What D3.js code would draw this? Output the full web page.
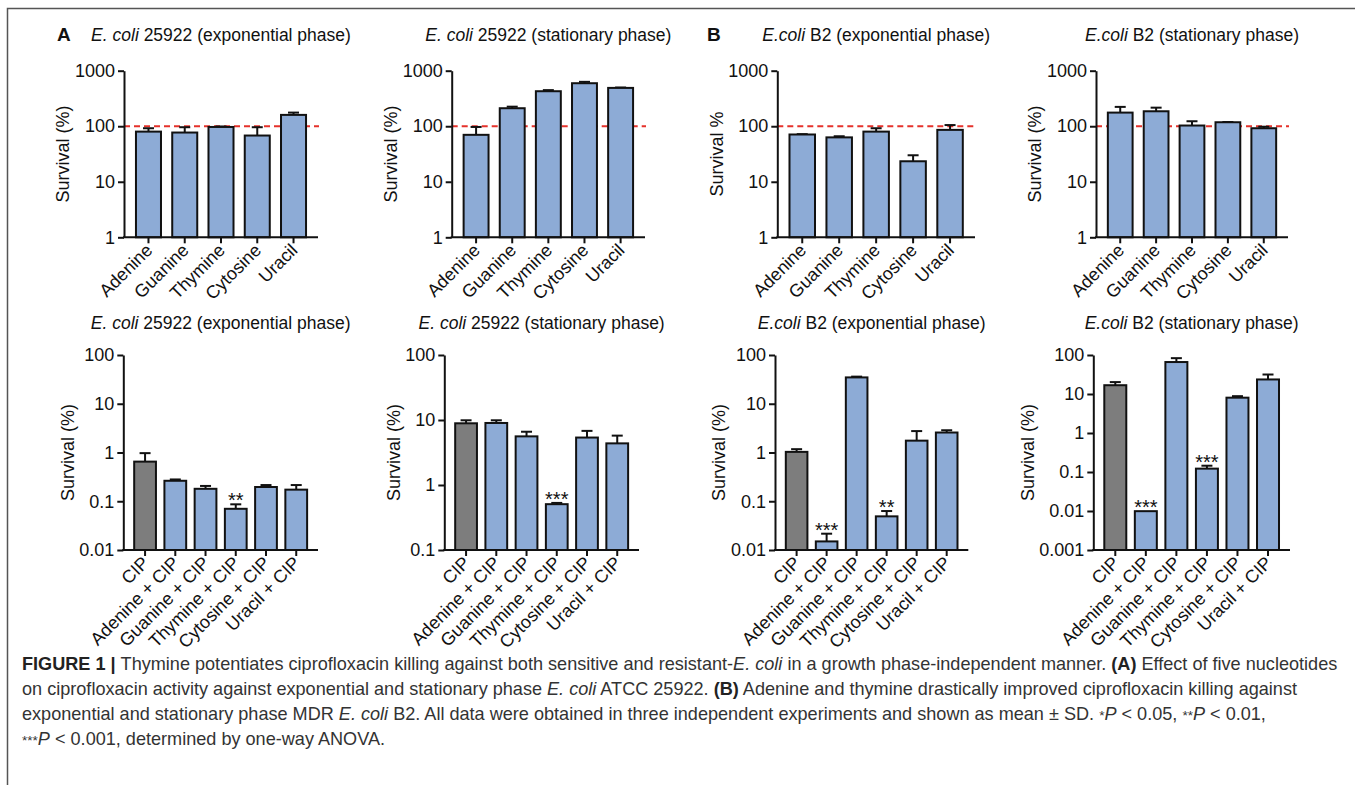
<!DOCTYPE html>
<html>
<head>
<meta charset="utf-8">
<script src="https://cdn.jsdelivr.net/npm/d3@7"></script>
<style>
  html, body { margin: 0; padding: 0; background: #fff; }
  svg { display: block; }
</style>
</head>
<body>
<svg id="fig" width="1355" height="785"></svg>
<script>
// ---------------- DATA ----------------
const topCats = ["Adenine", "Guanine", "Thymine", "Cytosine", "Uracil"];
const botCats = ["CIP", "Adenine + CIP", "Guanine + CIP", "Thymine + CIP", "Cytosine + CIP", "Uracil + CIP"];

const topTicks = [1, 10, 100, 1000];
const botTicksA = [0.01, 0.1, 1, 10, 100];
const botTicksAS = [0.1, 1, 10, 100];
const botTicksBS = [0.001, 0.01, 0.1, 1, 10, 100];

// top row: survival (%) with nucleotides alone (mean, SD)
const aExpMean = [80, 77, 97, 68, 160];
const aExpSD   = [12, 19, 2, 28, 16];
const aStatMean = [70, 211, 427, 595, 490];
const aStatSD   = [27, 14, 20, 35, 8];
const bExpMean = [71, 63, 80, 23.4, 86];
const bExpSD   = [1, 3, 12, 6.6, 19];
const bStatMean = [176, 186, 103, 118, 92];
const bStatSD   = [47, 30, 20, 1, 6];

// bottom row: survival (%) with CIP (mean, SD, significance)
const aExpCipMean = [0.65, 0.263, 0.18, 0.07, 0.196, 0.173];
const aExpCipSD   = [0.32, 0.017, 0.026, 0.0165, 0.019, 0.042];
const aExpCipSig  = ["", "", "", "**", "", ""];
const aStatCipMean = [8.9, 9.0, 5.6, 0.507, 5.37, 4.37];
const aStatCipSD   = [1.0, 0.9, 1.0, 0.023, 1.43, 1.38];
const aStatCipSig  = ["", "", "", "***", "", ""];
const bExpCipMean = [1.03, 0.015, 34.7, 0.049, 1.75, 2.57];
const bExpCipSD   = [0.14, 0.0066, 1.3, 0.014, 1.0, 0.29];
const bExpCipSig  = ["", "***", "", "**", "", ""];
const bStatCipMean = [16.8, 0.0099, 66, 0.122, 8.05, 23.6];
const bStatCipSD   = [3.4, 0, 17, 0.023, 0.75, 8];
const bStatCipSig  = ["", "***", "", "***", "", ""];

const refLine = 100;

const titleExp25922 = [["E. coli", true], [" 25922 (exponential phase)", false]];
const titleStat25922 = [["E. coli", true], [" 25922 (stationary phase)", false]];
const titleExpB2 = [["E.coli", true], [" B2 (exponential phase)", false]];
const titleStatB2 = [["E.coli", true], [" B2 (stationary phase)", false]];

// ---------------- LAYOUT / STYLE ----------------
const FONT = "'Liberation Sans', Arial, Helvetica, sans-serif";
const BLUE = "#8dabd6";
const GRAY = "#7d7d7d";
const RED = "#e5322b";

const ROW = [
  { yTop: 70.7, yBot: 237.3, titleY: 41 },
  { yTop: 355, yBot: 550, titleY: 329 }
];

const panels = [
  { row: 0, x0: 124, x1: 318, title: titleExp25922, ylab: "Survival (%)", ticks: topTicks, cats: topCats, mean: aExpMean, sd: aExpSD, ref: true, letter: "A", letterX: 57 },
  { row: 0, x0: 451.7, x1: 645, title: titleStat25922, ylab: "Survival (%)", ticks: topTicks, cats: topCats, mean: aStatMean, sd: aStatSD, ref: true },
  { row: 0, x0: 777.3, x1: 975, title: titleExpB2, ylab: "Survival %", ticks: topTicks, cats: topCats, mean: bExpMean, sd: bExpSD, ref: true, letter: "B", letterX: 707 },
  { row: 0, x0: 1096, x1: 1288, title: titleStatB2, ylab: "Survival (%)", ticks: topTicks, cats: topCats, mean: bStatMean, sd: bStatSD, ref: true },
  { row: 1, x0: 123.3, x1: 318, title: titleExp25922, ylab: "Survival (%)", ticks: botTicksA, cats: botCats, mean: aExpCipMean, sd: aExpCipSD, sig: aExpCipSig, grayFirst: true },
  { row: 1, x0: 444.3, x1: 639, title: titleStat25922, ylab: "Survival (%)", ticks: botTicksAS, cats: botCats, mean: aStatCipMean, sd: aStatCipSD, sig: aStatCipSig, grayFirst: true },
  { row: 1, x0: 775, x1: 968.3, title: titleExpB2, ylab: "Survival (%)", ticks: botTicksA, cats: botCats, mean: bExpCipMean, sd: bExpCipSD, sig: bExpCipSig, grayFirst: true },
  { row: 1, x0: 1093.3, x1: 1290, title: titleStatB2, ylab: "Survival (%)", ticks: botTicksBS, cats: botCats, mean: bStatCipMean, sd: bStatCipSD, sig: bStatCipSig, grayFirst: true }
];

const svg = d3.select("#fig");
svg.append("rect").attr("width", 1355).attr("height", 785).attr("fill", "#fff");

// frame (top + left border)
svg.append("path")
  .attr("d", "M7.5,785 V8.5 H1355")
  .attr("fill", "none").attr("stroke", "#555").attr("stroke-width", 1.5);

const fmt = v => String(v);

panels.forEach(p => {
  const r = ROW[p.row];
  const g = svg.append("g").attr("font-family", FONT);
  const n = p.cats.length;
  const x = d3.scaleBand().domain(p.cats).range([p.x0, p.x1])
    .paddingInner(n === 5 ? 0.31 : 0.28).paddingOuter(n === 5 ? 0.33 : 0.36);
  const y = d3.scaleLog().domain([p.ticks[0], p.ticks[p.ticks.length - 1]]).range([r.yBot, r.yTop]);

  // title
  const cx = (p.x0 + p.x1) / 2;
  const t = g.append("text").attr("x", cx).attr("y", r.titleY)
    .attr("text-anchor", "middle").attr("font-size", 17.5).attr("fill", "#111");
  p.title.forEach(([s, it]) => t.append("tspan").attr("font-style", it ? "italic" : "normal").text(s));

  if (p.letter) {
    g.append("text").attr("x", p.letterX).attr("y", r.titleY)
      .attr("font-size", 19).attr("font-weight", "bold").attr("fill", "#111").text(p.letter);
  }

  // reference line (behind bars)
  if (p.ref) {
    g.append("line")
      .attr("x1", p.x0).attr("x2", p.x1 + 1)
      .attr("y1", y(refLine)).attr("y2", y(refLine))
      .attr("stroke", RED).attr("stroke-width", 2).attr("stroke-dasharray", "6,4");
  }

  const data = p.cats.map((c, i) => ({ c, i, m: p.mean[i], sd: p.sd[i], sig: p.sig ? p.sig[i] : "" }));

  // error bars (upper only)
  const bw = x.bandwidth();
  data.filter(d => d.sd > 0).forEach(d => {
    const xc = x(d.c) + bw / 2;
    const yTopE = y(d.m + d.sd);
    g.append("line").attr("x1", xc).attr("x2", xc).attr("y1", y(d.m)).attr("y2", yTopE)
      .attr("stroke", "#111").attr("stroke-width", 2);
    g.append("line").attr("x1", xc - 5.5).attr("x2", xc + 5.5).attr("y1", yTopE).attr("y2", yTopE)
      .attr("stroke", "#111").attr("stroke-width", 2);
  });

  // bars
  g.selectAll("rect.bar").data(data).enter().append("rect")
    .attr("class", "bar")
    .attr("x", d => x(d.c))
    .attr("width", bw)
    .attr("y", d => y(d.m))
    .attr("height", d => r.yBot - y(d.m))
    .attr("fill", d => (p.grayFirst && d.i === 0) ? GRAY : BLUE)
    .attr("stroke", "#111").attr("stroke-width", 2);

  // significance stars
  g.selectAll("text.sig").data(data.filter(d => d.sig)).enter().append("text")
    .attr("class", "sig")
    .attr("x", d => x(d.c) + bw / 2)
    .attr("y", d => y(d.m + d.sd) + 3)
    .attr("text-anchor", "middle").attr("font-size", 20).attr("fill", "#111")
    .text(d => d.sig);

  // y axis
  const yAxis = d3.axisLeft(y).tickValues(p.ticks).tickFormat(fmt).tickSize(6).tickSizeOuter(0);
  const ya = g.append("g").attr("transform", `translate(${p.x0},0)`).call(yAxis);
  ya.select(".domain").attr("stroke", "#111").attr("stroke-width", 2);
  ya.selectAll(".tick line").attr("stroke", "#111").attr("stroke-width", 2);
  ya.selectAll(".tick text").attr("font-size", 18).attr("font-family", FONT).attr("fill", "#111").attr("x", -9);

  // x axis
  const xAxis = d3.axisBottom(x).tickSize(6).tickSizeOuter(0);
  const xa = g.append("g").attr("transform", `translate(0,${r.yBot})`).call(xAxis);
  xa.select(".domain").attr("stroke", "#111").attr("stroke-width", 2)
    .attr("d", `M${p.x0 - 1},0H${p.x1}`);
  xa.selectAll(".tick line").attr("stroke", "#111").attr("stroke-width", 2);
  xa.selectAll(".tick text")
    .attr("font-size", 18).attr("font-family", FONT).attr("fill", "#111")
    .attr("x", 0).attr("y", 0).attr("dy", 0)
    .attr("text-anchor", "end")
    .attr("transform", "translate(5,14) rotate(-45)");

  // y label
  let maxW = 0;
  ya.selectAll(".tick text").each(function () { maxW = Math.max(maxW, this.getComputedTextLength()); });
  const ly = (r.yTop + r.yBot) / 2;
  const lx = p.x0 - maxW - 21;
  g.append("text").attr("transform", `translate(${lx},${ly}) rotate(-90)`)
    .attr("text-anchor", "middle").attr("dy", "0.35em")
    .attr("font-size", 18).attr("fill", "#111").text(p.ylab);
});

// ---------------- CAPTION ----------------
const captionLines = [
  [["FIGURE 1", "b"], [" | ", "bar"], ["Thymine potentiates ciprofloxacin killing against both sensitive and resistant-", ""], ["E. coli", "i"], [" in a growth phase-independent manner. ", ""], ["(A)", "b"], [" Effect of five nucleotides", ""]],
  [["on ciprofloxacin activity against exponential and stationary phase ", ""], ["E. coli", "i"], [" ATCC 25922. ", ""], ["(B)", "b"], [" Adenine and thymine drastically improved ciprofloxacin killing against", ""]],
  [["exponential and stationary phase MDR ", ""], ["E. coli", "i"], [" B2. All data were obtained in three independent experiments and shown as mean \u00B1 SD. ", ""], ["*", "sup"], ["P", "i"], [" < 0.05, ", ""], ["**", "sup"], ["P", "i"], [" < 0.01,", ""]],
  [["***", "sup"], ["P", "i"], [" < 0.001, determined by one-way ANOVA.", ""]]
];
const capY = [670, 695, 720, 745];
const cap = svg.append("g").attr("font-family", FONT).attr("fill", "#333");
const capTexts = captionLines.map((segs, li) => {
  const t = cap.append("text").attr("x", 22).attr("y", capY[li]).attr("font-size", 16);
  segs.forEach(([s, st]) => {
    const ts = t.append("tspan").text(s);
    if (st === "b") ts.attr("font-weight", "bold").attr("fill", "#222");
    if (st === "bar") ts.attr("font-weight", "bold").attr("fill", "#222");
    if (st === "i") ts.attr("font-style", "italic");
    if (st === "sup") ts.attr("font-size", "0.75em");
  });
  return t;
});
// fit the first line to its width in the figure, same size for all lines
const w0 = capTexts[0].node().getComputedTextLength();
const fs = 16 * 1316 / w0;
capTexts.forEach(t => t.attr("font-size", fs));
</script>
</body>
</html>
